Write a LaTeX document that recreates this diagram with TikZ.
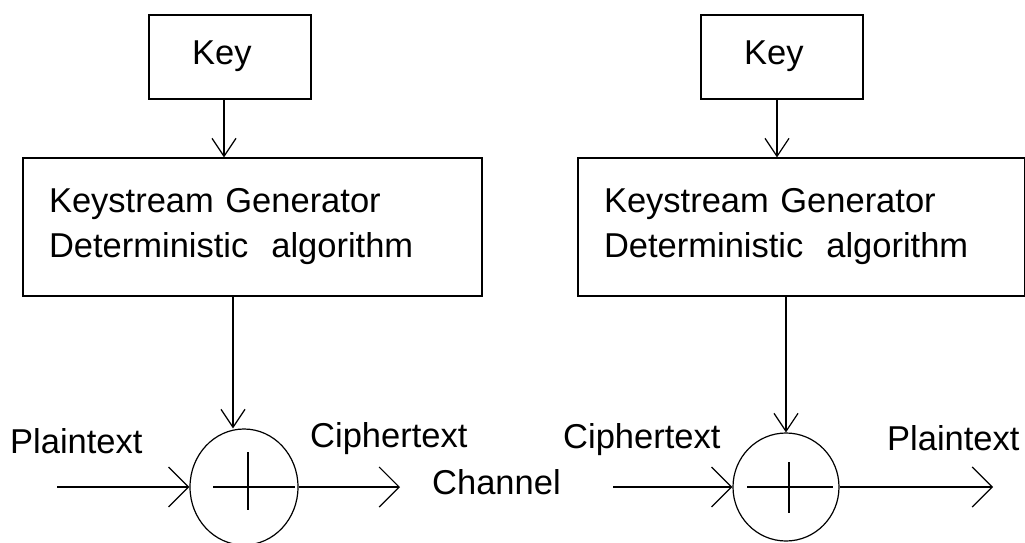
\documentclass[tikz,border=0pt]{standalone}
\usepackage{fontspec}
\setmainfont{Liberation Sans}
\usetikzlibrary{arrows.meta,shapes.geometric,calc}
\tikzset{
  boxnode/.style={draw,line width=1.2pt,inner sep=0pt},
  genbox/.style={boxnode,minimum height=138pt,align=left,inner xsep=26pt},
  xornode/.style={draw,ellipse,line width=1.2pt,inner sep=0pt},
  lbl/.style={anchor=base west,inner sep=0pt},
  harrow/.style={line width=1.2pt,-{Straight Barb[length=20pt,width=40pt,line width=1.2pt]}},
  varrow/.style={line width=1.2pt,-{Straight Barb[length=18pt,width=24pt,line width=1.2pt]}}
}
\def\bigfont{\fontsize{34.5}{45}\selectfont}

\begin{document}
\begin{tikzpicture}[x=1pt,y=-1pt,font=\bigfont]
    \useasboundingbox (0,0) rectangle (1025,543);
    % left side: encryption
    \node[boxnode,minimum width=162pt,minimum height=84pt] (keyL) at (230,57){};
    \node[lbl] (keyLtxt) at (192,65){Key};
    \node[genbox,minimum width=459pt,text width=407pt] (genL) at (252.5,227){Keystream Generator\\Deterministic\ \ algorithm};
    \node[xornode,minimum width=108pt,minimum height=116pt] (xorL) at (244,487){};
    \draw[line width=1.2pt] ($(xorL.center)+(-31,0)$)--($(xorL.center)+(51,0)$);
    \draw[line width=1.2pt] ($(xorL.center)+(4,-35)$)--($(xorL.center)+(4,23)$);
    \coordinate (kaL) at ($(keyL.south)+(-6,0)$);
    \coordinate (gaL) at ($(xorL.north)+(-11,0)$);
    \draw[varrow] (kaL)--(kaL |- genL.north);
    \draw[varrow] (gaL |- genL.south)--(gaL);
    \coordinate (ptinL) at (57,487);
    \coordinate (ctoutL) at (400,487);
    \draw[harrow] (ptinL)--(xorL.west);
    \draw[harrow] (xorL.east)--(ctoutL);
    \node[lbl] (ptL) at (10,453){Plaintext};
    \node[lbl] (ctL) at (310,447){Ciphertext};
    \node[lbl] (chan) at (432,494){Channel};
    % right side: decryption
    \node[boxnode,minimum width=162pt,minimum height=84pt] (keyR) at (782,57){};
    \node[lbl] (keyRtxt) at (744,65){Key};
    \node[genbox,minimum width=447pt,text width=395pt,inner xsep=26pt] (genR) at (801.5,227){Keystream Generator\\Deterministic\ \ algorithm};
    \node[xornode,minimum width=106pt,minimum height=108pt] (xorR) at (786,487){};
    \draw[line width=1.2pt] ($(xorR.center)+(-39,0)$)--($(xorR.center)+(47,0)$);
    \draw[line width=1.2pt] ($(xorR.center)+(3,-25)$)--($(xorR.center)+(3,26)$);
    \coordinate (kaR) at ($(keyR.south)+(-5,0)$);
    \draw[varrow] (kaR)--(kaR |- genR.north);
    \draw[varrow] (xorR.north |- genR.south)--(xorR.north);
    \coordinate (ctinR) at (613,487);
    \coordinate (ptoutR) at (993,487);
    \draw[harrow] (ctinR)--(xorR.west);
    \draw[harrow] (xorR.east)--(ptoutR);
    \node[lbl] (ctR) at (563,448){Ciphertext};
    \node[lbl] (ptR) at (887,450){Plaintext};
\end{tikzpicture}
\end{document}
